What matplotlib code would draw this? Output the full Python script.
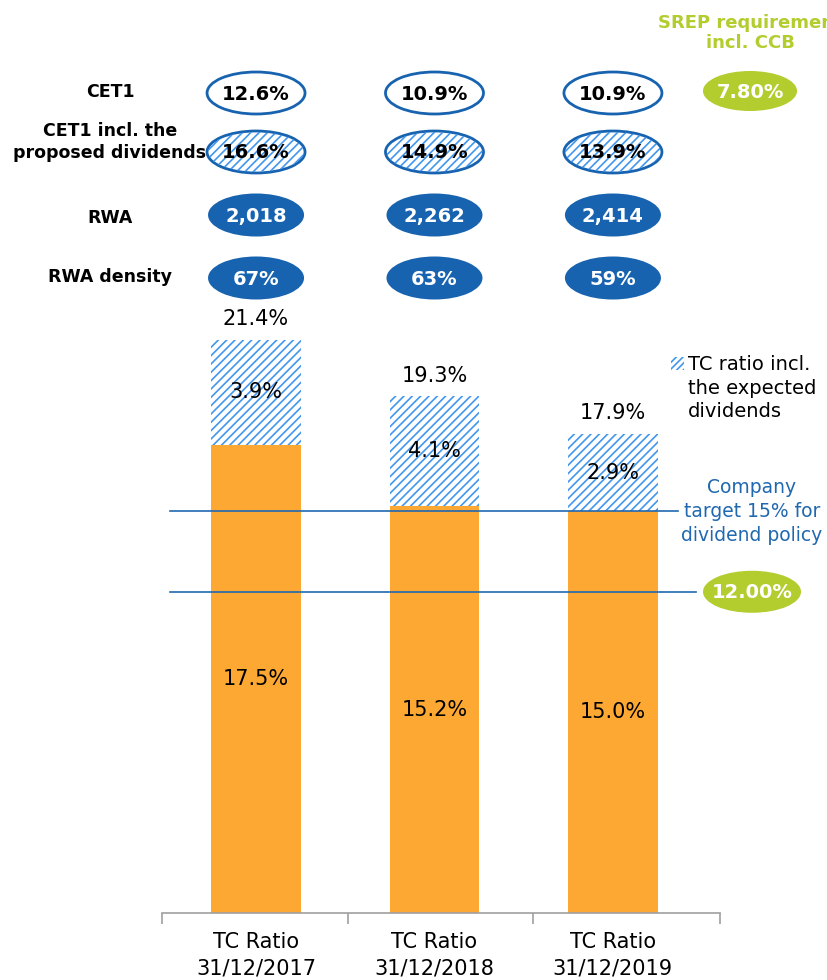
import numpy as np
import matplotlib.pyplot as plt
from matplotlib.patches import Ellipse, Rectangle

categories = ['TC Ratio\n31/12/2017', 'TC Ratio\n31/12/2018', 'TC Ratio\n31/12/2019']
tc_ratio = [17.5, 15.2, 15.0]
dividends = [3.9, 4.1, 2.9]
tc_total = [21.4, 19.3, 17.9]

row_labels = ['CET1', 'CET1 incl. the\nproposed dividends', 'RWA', 'RWA density']
cet1 = ['12.6%', '10.9%', '10.9%']
cet1_div = ['16.6%', '14.9%', '13.9%']
rwa = ['2,018', '2,262', '2,414']
rwa_density = ['67%', '63%', '59%']

srep_cet1 = '7.80%'
srep_tc = 12.00
company_target = 15.0

ORANGE = '#FCA832'
BLUE = '#1763B0'
HATCH_BLUE = '#4296EE'
GREEN = '#B3CC2E'
TEXT_BLUE = '#2068B0'

plt.rcParams['font.family'] = 'DejaVu Sans'
plt.rcParams['hatch.color'] = HATCH_BLUE
plt.rcParams['hatch.linewidth'] = 1.2

W, H = 827, 980
fig = plt.figure(figsize=(W / 100, H / 100), dpi=100)
ax = fig.add_axes([162 / W, 1 - 913 / H, 558 / W, 613 / H])

x = np.arange(len(categories))
ax.bar(x, tc_ratio, width=0.5, color=ORANGE, zorder=2)
ax.bar(x, dividends, width=0.5, bottom=tc_ratio, color='white',
       hatch='////', edgecolor=HATCH_BLUE, linewidth=0, zorder=2)

for i in range(len(x)):
    ax.text(x[i], tc_ratio[i] / 2, f'{tc_ratio[i]:.1f}%', ha='center', va='center', fontsize=15, zorder=3)
    ax.text(x[i], tc_ratio[i] + dividends[i] / 2, f'{dividends[i]:.1f}%', ha='center', va='center',
            fontsize=15, zorder=3)
    ax.annotate(f'{tc_total[i]:.1f}%', (x[i], tc_total[i]), xytext=(0, 15), textcoords='offset points',
                ha='center', va='center', fontsize=15)

ax.axhline(company_target, xmin=0.014, xmax=0.925, color=TEXT_BLUE, lw=1.2, clip_on=False, zorder=4)
ax.axhline(srep_tc, xmin=0.014, xmax=0.957, color=TEXT_BLUE, lw=1.2, clip_on=False, zorder=4)

ax.set_xlim(-0.527, 2.6)
ax.set_ylim(0, 22.9)
for s in ['top', 'right', 'left']:
    ax.spines[s].set_visible(False)
ax.spines['bottom'].set_color('#A0A0A0')
ax.spines['bottom'].set_linewidth(1.2)
ax.set_yticks([])
ax.set_xticks(x)
ax.set_xticklabels(categories, fontsize=15, linespacing=1.35)
ax.tick_params(axis='x', length=0, pad=14)
ax.set_xticks([-0.527, 0.515, 1.552, 2.6], minor=True)
ax.tick_params(axis='x', which='minor', length=8, color='#A0A0A0', width=1.2, direction='out')

# overlay in pixel coordinates for the table of ellipses
ov = fig.add_axes([0, 0, 1, 1], facecolor='none')
ov.set_xlim(0, W)
ov.set_ylim(H, 0)
ov.axis('off')


def to_px(xd, yd):
    px, py = ax.transData.transform((xd, yd))
    return px, H - py


col_x = [to_px(i, 0)[0] for i in x]
row_y = [93, 152, 215, 278]
label_y = [92, 142, 218, 277]

for lab, ly in zip(row_labels, label_y):
    ov.text(110, ly, lab, ha='center', va='center', fontsize=12.5, fontweight='bold',
            linespacing=1.25)

for i, cx in enumerate(col_x):
    ov.add_patch(Ellipse((cx, row_y[0]), 98, 42, facecolor='white', edgecolor=BLUE, lw=2))
    ov.text(cx, row_y[0] + 1, cet1[i], ha='center', va='center', fontsize=14, fontweight='bold')
    ov.add_patch(Ellipse((cx, row_y[1]), 98, 42, facecolor='white', edgecolor=BLUE, lw=2))
    ov.add_patch(Ellipse((cx, row_y[1]), 96, 40, facecolor='none', edgecolor=HATCH_BLUE, lw=0,
                         hatch='////'))
    ov.text(cx, row_y[1] + 1, cet1_div[i], ha='center', va='center', fontsize=14, fontweight='bold')
    ov.add_patch(Ellipse((cx, row_y[2]), 96, 43, facecolor=BLUE, edgecolor='none'))
    ov.text(cx, row_y[2] + 1, rwa[i], ha='center', va='center', fontsize=14, fontweight='bold',
            color='white')
    ov.add_patch(Ellipse((cx, row_y[3]), 96, 43, facecolor=BLUE, edgecolor='none'))
    ov.text(cx, row_y[3] + 1, rwa_density[i], ha='center', va='center', fontsize=14, fontweight='bold',
            color='white')

# SREP requirement (clipped at the right edge as in the source slide)
ov.text(750, 33, 'SREP requirement\nincl. CCB', ha='center', va='center', fontsize=13,
        fontweight='bold', color=GREEN, linespacing=1.2)
ov.add_patch(Ellipse((750, 91), 94, 40, facecolor=GREEN, edgecolor='none'))
ov.text(750, 92, srep_cet1, ha='center', va='center', fontsize=14, fontweight='bold', color='white')

_, y12 = to_px(0, srep_tc)
ov.add_patch(Ellipse((752, y12), 98, 42, facecolor=GREEN, edgecolor='none'))
ov.text(752, y12 + 1, f'{srep_tc:.2f}%', ha='center', va='center', fontsize=14, fontweight='bold',
        color='white')

_, y15 = to_px(0, company_target)
ov.text(752, y15, 'Company\ntarget 15% for\ndividend policy', ha='center', va='center', fontsize=13.5,
        color=TEXT_BLUE, linespacing=1.35)

# legend
ov.add_patch(Rectangle((671, 357), 13, 13, facecolor='white', edgecolor=HATCH_BLUE, lw=0, hatch='/////'))
ov.text(688, 388, 'TC ratio incl.\nthe expected\ndividends', ha='left', va='center', fontsize=14,
        linespacing=1.3)

fig.savefig('out.png', dpi=100)
